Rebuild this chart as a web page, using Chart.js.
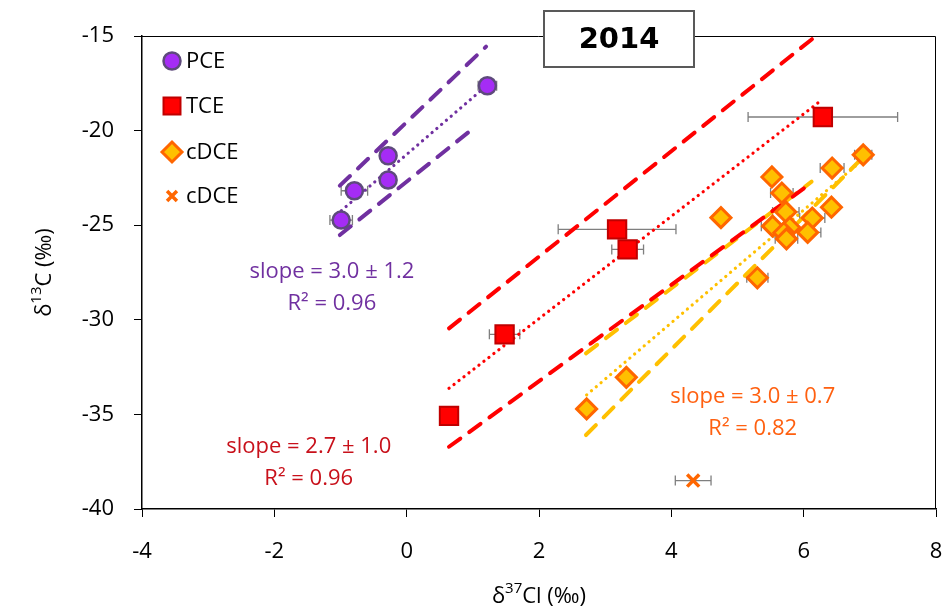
<!DOCTYPE html>
<html>
<head>
<meta charset="utf-8">
<script src="https://cdn.jsdelivr.net/npm/chart.js@4/dist/chart.umd.min.js"></script>
<style>
  html, body { margin: 0; padding: 0; background: #fff; }
  #wrap { width: 944px; height: 613px; }
</style>
</head>
<body>
<div id="wrap"><canvas id="isoChart" width="944" height="613"></canvas></div>
<script>
// δ37Cl / δ13C isotope values per compound
const pceX = [1.22, -0.28, -0.28, -0.79, -0.99];
const pceY = [-17.63, -21.33, -22.61, -23.18, -24.73];
const pceErrX = [0.14, 0.1, 0.08, 0.2, 0.17];

const tceX = [6.29, 3.18, 3.34, 1.48, 0.64];
const tceY = [-19.28, -25.22, -26.28, -30.77, -35.08];
const tceErrX = [1.13, 0.89, 0.24, 0.23, 0];

const cdceX = [6.9, 6.43, 5.52, 5.67, 6.42, 4.75, 5.73, 6.13, 5.53, 5.79, 5.7, 5.74, 6.06, 5.3, 3.32, 2.72];
const cdceY = [-21.28, -21.98, -22.45, -23.3, -24.05, -24.6, -24.3, -24.62, -25.05, -25.12, -25.4, -25.72, -25.38, -27.78, -33.04, -34.71];
const cdceErrX = [0.13, 0.18, 0, 0.17, 0, 0, 0.2, 0.19, 0.17, 0, 0.15, 0.17, 0.2, 0.16, 0, 0];

const cdce2X = [4.33];
const cdce2Y = [-38.5];
const cdce2ErrX = [0.27];

// regression fits and confidence bands (end points)
const pceFitX = [-1.06, 1.2],  pceFitY = [-24.45, -17.65];
const pceHiX  = [-1.01, 1.2],  pceHiY  = [-22.91, -15.56];
const pceLoX  = [-1.01, 1.0],  pceLoY  = [-25.52, -19.9];

const tceFitX = [0.64, 6.27],  tceFitY = [-33.62, -18.39];
const tceHiX  = [0.64, 6.15],  tceHiY  = [-30.45, -15.1];
const tceLoX  = [0.64, 6.12],  tceLoY  = [-36.71, -22.75];

const cdceFitX = [2.72, 6.88], cdceFitY = [-33.97, -21.58];
const cdceHiX  = [2.71, 6.12], cdceHiY  = [-31.77, -22.7];
const cdceLoX  = [2.71, 6.9],  cdceLoY  = [-36.09, -21.4];

const xTicks = [-4, -2, 0, 2, 4, 6, 8];
const yTicks = [-40, -35, -30, -25, -20, -15];

const fitLabels = [
  { x: -1.13, y: -27.45, lines: ['slope = 3.0 ± 1.2', 'R² = 0.96'], color: '#7030A0' },
  { x: -1.48, y: -36.7,  lines: ['slope = 2.7 ± 1.0', 'R² = 0.96'], color: '#C8101A' },
  { x: 5.23,  y: -34.05, lines: ['slope = 3.0 ± 0.7', 'R² = 0.82'], color: '#FF6010' }
];

const FONT = "'Open Sans', 'Liberation Sans', sans-serif";

const pts = (xs, ys) => xs.map((x, i) => ({ x: x, y: ys[i] }));

function marker(label, xs, ys, errs, style) {
  return Object.assign({
    label: label,
    data: pts(xs, ys),
    errX: errs,
    showLine: false,
    order: 0
  }, style);
}

function fitLine(xs, ys, color, dotted) {
  return {
    data: pts(xs, ys),
    showLine: true,
    pointRadius: 0,
    pointHoverRadius: 0,
    borderColor: color,
    borderWidth: dotted ? 3.2 : 4,
    borderDash: dotted ? [0.1, 6.2] : [14, 11],
    borderCapStyle: 'round',
    fill: false,
    order: 1
  };
}

const pceStyle = { pointStyle: 'circle', pointRadius: 8.5, backgroundColor: '#A52CF5', borderColor: '#5E4A7C', borderWidth: 2.5 };
const tceStyle = { pointStyle: 'rect', pointRadius: 13, backgroundColor: '#FF0000', borderColor: '#C00000', borderWidth: 2 };
const cdceStyle = { pointStyle: 'rectRot', pointRadius: 10, backgroundColor: '#FFC000', borderColor: '#FF6600', borderWidth: 3 };
const cdce2Style = { pointStyle: 'crossRot', pointRadius: 8.5, backgroundColor: '#FF6600', borderColor: '#FF6600', borderWidth: 3.5 };

// horizontal error bars under the markers
const errorBars = {
  id: 'errorBars',
  beforeDatasetsDraw(chart) {
    const ctx = chart.ctx, xs = chart.scales.x, ys = chart.scales.y;
    ctx.save();
    ctx.strokeStyle = '#7F7F7F';
    ctx.lineWidth = 1.3;
    chart.data.datasets.forEach(ds => {
      if (!ds.errX) return;
      ds.data.forEach((p, i) => {
        const e = ds.errX[i];
        if (!e) return;
        const x0 = xs.getPixelForValue(p.x - e), x1 = xs.getPixelForValue(p.x + e);
        const y = ys.getPixelForValue(p.y);
        ctx.beginPath();
        ctx.moveTo(x0, y); ctx.lineTo(x1, y);
        ctx.moveTo(x0, y - 5); ctx.lineTo(x0, y + 5);
        ctx.moveTo(x1, y - 5); ctx.lineTo(x1, y + 5);
        ctx.stroke();
      });
    });
    ctx.restore();
  }
};

// frame, year box, legend, axis titles and fit labels
const decorations = {
  id: 'decorations',
  afterDraw(chart) {
    const ctx = chart.ctx, a = chart.chartArea, xs = chart.scales.x, ys = chart.scales.y;
    ctx.save();

    ctx.strokeStyle = '#000';
    ctx.lineWidth = 1;
    ctx.beginPath();
    ctx.moveTo(a.left, a.top + 0.5); ctx.lineTo(a.right - 0.5, a.top + 0.5); ctx.lineTo(a.right - 0.5, a.bottom);
    ctx.stroke();

    // year box
    ctx.fillStyle = '#fff';
    ctx.fillRect(544, 11, 150, 56);
    ctx.strokeStyle = '#595959';
    ctx.lineWidth = 2;
    ctx.strokeRect(544, 11, 150, 56);
    ctx.fillStyle = '#000';
    ctx.font = "bold 29px 'DejaVu Sans', sans-serif";
    ctx.textAlign = 'center';
    ctx.textBaseline = 'middle';
    ctx.fillText('2014', 619, 40);

    // legend
    const rows = [
      { text: 'PCE', y: 61, ds: 0 },
      { text: 'TCE', y: 106, ds: 1 },
      { text: 'cDCE', y: 152, ds: 2 },
      { text: 'cDCE', y: 196, ds: 3 }
    ];
    rows.forEach(r => {
      const ds = chart.data.datasets[r.ds];
      ctx.fillStyle = ds.backgroundColor;
      ctx.strokeStyle = ds.borderColor;
      ctx.lineWidth = ds.borderWidth;
      const rad = ds.pointStyle === 'rect' ? 12 : ds.pointStyle === 'crossRot' ? 7 : ds.pointRadius;
      Chart.helpers.drawPoint(ctx, { pointStyle: ds.pointStyle, rotation: 0, radius: rad, borderWidth: ds.borderWidth }, 172, r.y);
      ctx.fillStyle = '#000';
      ctx.font = '22px ' + FONT;
      ctx.textAlign = 'left';
      ctx.textBaseline = 'middle';
      ctx.fillText(r.text, 186, r.y + 1);
    });

    // fit labels
    ctx.font = '22px ' + FONT;
    ctx.textAlign = 'center';
    ctx.textBaseline = 'middle';
    fitLabels.forEach(f => {
      ctx.fillStyle = f.color;
      const cx = xs.getPixelForValue(f.x), cy = ys.getPixelForValue(f.y);
      f.lines.forEach((t, i) => ctx.fillText(t, cx, cy + i * 32));
    });

    // axis titles with superscripts
    ctx.fillStyle = '#000';
    const drawSup = (parts, x, y) => {
      let w = 0;
      parts.forEach(p => { ctx.font = (p.sup ? '15px ' : '22px ') + FONT; w += ctx.measureText(p.t).width; });
      let cx = x - w / 2;
      ctx.textAlign = 'left';
      parts.forEach(p => {
        ctx.font = (p.sup ? '15px ' : '22px ') + FONT;
        ctx.fillText(p.t, cx, p.sup ? y - 8 : y);
        cx += ctx.measureText(p.t).width;
      });
    };
    ctx.textBaseline = 'middle';
    drawSup([{ t: 'δ' }, { t: '37', sup: true }, { t: 'Cl (‰)' }], (a.left + a.right) / 2, 597);
    ctx.save();
    ctx.translate(45, (a.top + a.bottom) / 2);
    ctx.rotate(-Math.PI / 2);
    drawSup([{ t: 'δ' }, { t: '13', sup: true }, { t: 'C (‰)' }], 0, 0);
    ctx.restore();

    ctx.restore();
  }
};

new Chart(document.getElementById('isoChart'), {
  type: 'scatter',
  data: {
    datasets: [
      marker('PCE', pceX, pceY, pceErrX, pceStyle),
      marker('TCE', tceX, tceY, tceErrX, tceStyle),
      marker('cDCE', cdceX, cdceY, cdceErrX, cdceStyle),
      marker('cDCE', cdce2X, cdce2Y, cdce2ErrX, cdce2Style),
      fitLine(pceHiX, pceHiY, '#7030A0', false),
      fitLine(pceLoX, pceLoY, '#7030A0', false),
      fitLine(pceFitX, pceFitY, '#7030A0', true),
      fitLine(tceHiX, tceHiY, '#FF0000', false),
      fitLine(tceLoX, tceLoY, '#FF0000', false),
      fitLine(tceFitX, tceFitY, '#FF0000', true),
      fitLine(cdceHiX, cdceHiY, '#FFC000', false),
      fitLine(cdceLoX, cdceLoY, '#FFC000', false),
      fitLine(cdceFitX, cdceFitY, '#FFC000', true)
    ]
  },
  options: {
    responsive: false,
    animation: false,
    layout: { autoPadding: false, padding: { top: 36, right: 8, left: 0, bottom: 0 } },
    plugins: {
      legend: { display: false },
      tooltip: { enabled: false },
      title: { display: false }
    },
    scales: {
      x: {
        type: 'linear',
        min: -4,
        max: 8,
        afterBuildTicks: s => { s.ticks = xTicks.map(v => ({ value: v })); },
        afterFit: s => { s.height = 104; s.paddingLeft = 0; s.paddingRight = 0; },
        ticks: { font: { family: FONT, size: 22 }, color: '#000', padding: 22, maxRotation: 0 },
        grid: { drawOnChartArea: false, drawTicks: true, tickLength: 8, color: '#000' },
        border: { display: true, color: '#000', width: 1.5 }
      },
      y: {
        type: 'linear',
        min: -40,
        max: -15,
        afterBuildTicks: s => { s.ticks = yTicks.map(v => ({ value: v })); },
        afterFit: s => { s.width = 142; s.paddingTop = 0; s.paddingBottom = 0; },
        ticks: { font: { family: FONT, size: 22 }, color: '#000', padding: 20 },
        grid: { drawOnChartArea: false, drawTicks: true, tickLength: 8, color: '#000' },
        border: { display: true, color: '#000', width: 1.5 }
      }
    }
  },
  plugins: [errorBars, decorations]
});
</script>
</body>
</html>
